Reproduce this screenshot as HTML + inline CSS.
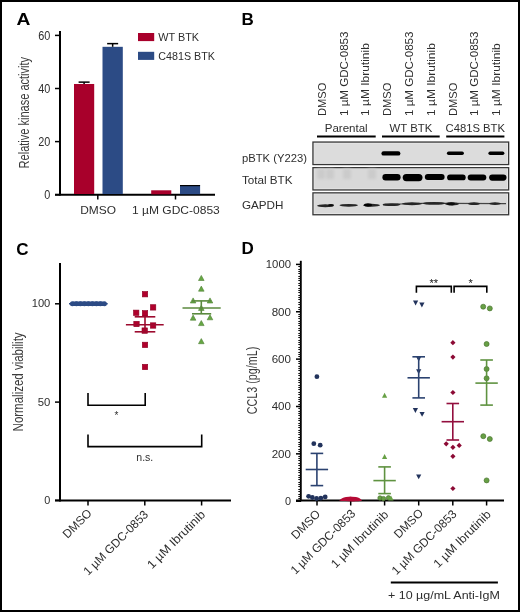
<!DOCTYPE html>
<html><head><meta charset="utf-8"><style>
html,body{margin:0;padding:0;background:#fff;}
body{width:520px;height:612px;overflow:hidden;}
svg{display:block;will-change:transform;}
text{font-family:"Liberation Sans",sans-serif;}
</style></head><body>
<svg width="520" height="612" viewBox="0 0 520 612">
<rect x="0" y="0" width="520" height="612" fill="#fff"/>
<text x="16.6" y="25" font-size="17.2" text-anchor="start" fill="#000" textLength="13.9" lengthAdjust="spacingAndGlyphs" font-weight="bold">A</text>
<line x1="60" y1="31" x2="60" y2="195.5" stroke="#000" stroke-width="2"/>
<line x1="55" y1="194.7" x2="215" y2="194.7" stroke="#000" stroke-width="2"/>
<line x1="55" y1="194.7" x2="60" y2="194.7" stroke="#000" stroke-width="1.5"/>
<text x="50.3" y="199.0" font-size="12" text-anchor="end" fill="#2e2e2e" textLength="6.05" lengthAdjust="spacingAndGlyphs">0</text>
<line x1="55" y1="141.6" x2="60" y2="141.6" stroke="#000" stroke-width="1.5"/>
<text x="50.3" y="145.9" font-size="12" text-anchor="end" fill="#2e2e2e" textLength="12.1" lengthAdjust="spacingAndGlyphs">20</text>
<line x1="55" y1="88.5" x2="60" y2="88.5" stroke="#000" stroke-width="1.5"/>
<text x="50.3" y="92.8" font-size="12" text-anchor="end" fill="#2e2e2e" textLength="12.1" lengthAdjust="spacingAndGlyphs">40</text>
<line x1="55" y1="35.400000000000006" x2="60" y2="35.400000000000006" stroke="#000" stroke-width="1.5"/>
<text x="50.3" y="39.7" font-size="12" text-anchor="end" fill="#2e2e2e" textLength="12.1" lengthAdjust="spacingAndGlyphs">60</text>
<line x1="97.8" y1="195" x2="97.8" y2="199.5" stroke="#000" stroke-width="1.5"/>
<line x1="175.5" y1="195" x2="175.5" y2="199.5" stroke="#000" stroke-width="1.5"/>
<rect x="74" y="83.98649999999999" width="20.200000000000003" height="110.01350000000001" fill="#a8002b"/>
<line x1="84.1" y1="82.12799999999999" x2="84.1" y2="83.98649999999999" stroke="#000" stroke-width="1.5"/>
<line x1="78.6" y1="82.12799999999999" x2="89.6" y2="82.12799999999999" stroke="#000" stroke-width="1.5"/>
<rect x="102.5" y="46.81649999999999" width="20.299999999999997" height="147.1835" fill="#2c4b85"/>
<line x1="112.65" y1="43.630499999999984" x2="112.65" y2="46.81649999999999" stroke="#000" stroke-width="1.5"/>
<line x1="107.15" y1="43.630499999999984" x2="118.15" y2="43.630499999999984" stroke="#000" stroke-width="1.5"/>
<rect x="151.2" y="190.3" width="20.1" height="4" fill="#a8002b"/>
<rect x="180" y="185.7" width="20.1" height="8.5" fill="#2c4b85"/>
<line x1="180" y1="185.6" x2="200.1" y2="185.6" stroke="#000" stroke-width="1.2"/>
<rect x="138" y="33" width="16.2" height="8.1" fill="#a8002b"/>
<rect x="138" y="51.8" width="16.2" height="8.1" fill="#2c4b85"/>
<text x="158.3" y="40.8" font-size="10.8" text-anchor="start" fill="#2e2e2e" textLength="40.8" lengthAdjust="spacingAndGlyphs">WT BTK</text>
<text x="158.3" y="59.5" font-size="10.8" text-anchor="start" fill="#2e2e2e" textLength="56.6" lengthAdjust="spacingAndGlyphs">C481S BTK</text>
<text x="80.2" y="214" font-size="11.5" text-anchor="start" fill="#2e2e2e" textLength="35.8" lengthAdjust="spacingAndGlyphs">DMSO</text>
<text x="132" y="214" font-size="11.5" text-anchor="start" fill="#2e2e2e" textLength="87.8" lengthAdjust="spacingAndGlyphs">1 µM GDC-0853</text>
<text x="29.2" y="168.4" font-size="14.2" text-anchor="start" fill="#3c3c3c" textLength="111.5" lengthAdjust="spacingAndGlyphs" transform="rotate(-90 29.2 168.4)">Relative kinase activity</text>
<text x="241.5" y="24.6" font-size="17" text-anchor="start" fill="#000" font-weight="bold">B</text>
<text x="325.8" y="116" font-size="11.3" text-anchor="start" fill="#2e2e2e" textLength="33.3" lengthAdjust="spacingAndGlyphs" transform="rotate(-90 325.8 116)">DMSO</text>
<text x="347.6" y="116" font-size="11.3" text-anchor="start" fill="#2e2e2e" textLength="84.5" lengthAdjust="spacingAndGlyphs" transform="rotate(-90 347.6 116)">1 µM GDC-0853</text>
<text x="369.4" y="116" font-size="11.3" text-anchor="start" fill="#2e2e2e" textLength="72.8" lengthAdjust="spacingAndGlyphs" transform="rotate(-90 369.4 116)">1 µM Ibrutinib</text>
<text x="391.2" y="116" font-size="11.3" text-anchor="start" fill="#2e2e2e" textLength="33.3" lengthAdjust="spacingAndGlyphs" transform="rotate(-90 391.2 116)">DMSO</text>
<text x="413.0" y="116" font-size="11.3" text-anchor="start" fill="#2e2e2e" textLength="84.5" lengthAdjust="spacingAndGlyphs" transform="rotate(-90 413.0 116)">1 µM GDC-0853</text>
<text x="434.8" y="116" font-size="11.3" text-anchor="start" fill="#2e2e2e" textLength="72.8" lengthAdjust="spacingAndGlyphs" transform="rotate(-90 434.8 116)">1 µM Ibrutinib</text>
<text x="456.6" y="116" font-size="11.3" text-anchor="start" fill="#2e2e2e" textLength="33.3" lengthAdjust="spacingAndGlyphs" transform="rotate(-90 456.6 116)">DMSO</text>
<text x="478.4" y="116" font-size="11.3" text-anchor="start" fill="#2e2e2e" textLength="84.5" lengthAdjust="spacingAndGlyphs" transform="rotate(-90 478.4 116)">1 µM GDC-0853</text>
<text x="500.2" y="116" font-size="11.3" text-anchor="start" fill="#2e2e2e" textLength="72.8" lengthAdjust="spacingAndGlyphs" transform="rotate(-90 500.2 116)">1 µM Ibrutinib</text>
<text x="324.7" y="132.3" font-size="11.5" text-anchor="start" fill="#2e2e2e" textLength="43" lengthAdjust="spacingAndGlyphs">Parental</text>
<text x="389.6" y="132.3" font-size="11.5" text-anchor="start" fill="#2e2e2e" textLength="42.7" lengthAdjust="spacingAndGlyphs">WT BTK</text>
<text x="445.5" y="132.3" font-size="11.5" text-anchor="start" fill="#2e2e2e" textLength="59.5" lengthAdjust="spacingAndGlyphs">C481S BTK</text>
<line x1="317" y1="136.6" x2="375.7" y2="136.6" stroke="#000" stroke-width="2"/>
<line x1="382" y1="136.6" x2="439.7" y2="136.6" stroke="#000" stroke-width="2"/>
<line x1="446.2" y1="136.6" x2="504.4" y2="136.6" stroke="#000" stroke-width="2"/>
<text x="241.9" y="161.5" font-size="11.3" text-anchor="start" fill="#2e2e2e" textLength="65" lengthAdjust="spacingAndGlyphs">pBTK (Y223)</text>
<text x="241.9" y="184" font-size="11.3" text-anchor="start" fill="#2e2e2e" textLength="50.6" lengthAdjust="spacingAndGlyphs">Total BTK</text>
<text x="241.9" y="208.5" font-size="11.3" text-anchor="start" fill="#2e2e2e" textLength="41.5" lengthAdjust="spacingAndGlyphs">GAPDH</text>
<defs><filter id="bl" x="-20%" y="-80%" width="140%" height="260%"><feGaussianBlur stdDeviation="0.55"/></filter><filter id="bl1" x="-20%" y="-80%" width="140%" height="260%"><feGaussianBlur stdDeviation="0.75"/></filter><filter id="bl2" x="-30%" y="-50%" width="160%" height="200%"><feGaussianBlur stdDeviation="1.8"/></filter></defs>
<rect x="312.3" y="141.4" width="197" height="23.799999999999983" fill="#363636"/>
<rect x="313.6" y="142.70000000000002" width="194.4" height="21.19999999999998" fill="#ececec"/>
<rect x="314.3" y="143.4" width="193" height="19.799999999999983" fill="#dcdcdc"/>
<rect x="312.3" y="167.0" width="197" height="23.599999999999994" fill="#363636"/>
<rect x="313.6" y="168.3" width="194.4" height="20.999999999999993" fill="#ececec"/>
<rect x="314.3" y="169.0" width="193" height="19.599999999999994" fill="#d8d8d8"/>
<rect x="312.3" y="192.2" width="197" height="23.200000000000017" fill="#363636"/>
<rect x="313.6" y="193.5" width="194.4" height="20.600000000000016" fill="#ececec"/>
<rect x="314.3" y="194.2" width="193" height="19.200000000000017" fill="#d9d9d9"/>
<rect x="381.40" y="151.20" width="19" height="4.4" rx="2.2" fill="#050505" filter="url(#bl)"/>
<rect x="446.90" y="151.50" width="17" height="3.4" rx="1.7" fill="#050505" filter="url(#bl)"/>
<rect x="488.40" y="151.50" width="16" height="3.4" rx="1.7" fill="#050505" filter="url(#bl)"/>
<rect x="317" y="169" width="8" height="10" fill="#cbcbcb" filter="url(#bl2)"/>
<rect x="326" y="169" width="8" height="10" fill="#cbcbcb" filter="url(#bl2)"/>
<rect x="343" y="169" width="8" height="10" fill="#cbcbcb" filter="url(#bl2)"/>
<rect x="368" y="169" width="8" height="10" fill="#cbcbcb" filter="url(#bl2)"/>
<rect x="382.40" y="174.10" width="18.2" height="6.4" rx="3.20" fill="#030303" filter="url(#bl1)"/>
<rect x="402.70" y="173.90" width="19.8" height="7.4" rx="3.70" fill="#030303" filter="url(#bl1)"/>
<rect x="424.80" y="174.10" width="19.8" height="6.0" rx="3.00" fill="#030303" filter="url(#bl1)"/>
<rect x="447.10" y="174.50" width="18.6" height="5.8" rx="2.90" fill="#030303" filter="url(#bl1)"/>
<rect x="467.70" y="174.50" width="18.6" height="6.0" rx="3.00" fill="#030303" filter="url(#bl1)"/>
<rect x="489.10" y="174.50" width="17.4" height="6.2" rx="3.10" fill="#030303" filter="url(#bl1)"/>
<path d="M383 204.8 L400 204 L430 203.2 L448 203.3 L506 203.6" fill="none" stroke="#444" stroke-width="1.2" filter="url(#bl)"/>
<ellipse cx="325.3" cy="205.8" rx="8.25" ry="1.45" fill="#262626" filter="url(#bl1)"/>
<ellipse cx="348.7" cy="205.3" rx="9.25" ry="1.35" fill="#262626" filter="url(#bl1)"/>
<ellipse cx="371.5" cy="205.2" rx="8.5" ry="1.45" fill="#262626" filter="url(#bl1)"/>
<ellipse cx="391.5" cy="204.6" rx="9.0" ry="1.45" fill="#262626" filter="url(#bl1)"/>
<ellipse cx="412" cy="203.8" rx="10.0" ry="1.45" fill="#262626" filter="url(#bl1)"/>
<ellipse cx="434" cy="203.4" rx="11.0" ry="1.45" fill="#262626" filter="url(#bl1)"/>
<ellipse cx="452" cy="203.8" rx="7.0" ry="1.65" fill="#262626" filter="url(#bl1)"/>
<ellipse cx="474" cy="203.7" rx="6.0" ry="1.35" fill="#262626" filter="url(#bl1)"/>
<ellipse cx="495" cy="203.6" rx="6.0" ry="1.35" fill="#262626" filter="url(#bl1)"/>
<ellipse cx="368" cy="205" rx="4" ry="1.7" fill="#050505" filter="url(#bl1)"/>
<ellipse cx="331" cy="205.3" rx="3" ry="1.3" fill="#111" filter="url(#bl1)"/>
<ellipse cx="451" cy="203.7" rx="4" ry="1.5" fill="#111" filter="url(#bl1)"/>
<text x="16.3" y="254.6" font-size="17" text-anchor="start" fill="#000" font-weight="bold">C</text>
<line x1="60" y1="263" x2="60" y2="501.4" stroke="#000" stroke-width="2"/>
<line x1="55" y1="500.4" x2="231" y2="500.4" stroke="#000" stroke-width="2"/>
<line x1="55" y1="500.4" x2="60" y2="500.4" stroke="#000" stroke-width="1.5"/>
<text x="50.3" y="504.0" font-size="11.5" text-anchor="end" fill="#2e2e2e" textLength="6.05" lengthAdjust="spacingAndGlyphs">0</text>
<line x1="55" y1="402.09999999999997" x2="60" y2="402.09999999999997" stroke="#000" stroke-width="1.5"/>
<text x="50.3" y="405.7" font-size="11.5" text-anchor="end" fill="#2e2e2e" textLength="12.6" lengthAdjust="spacingAndGlyphs">50</text>
<line x1="55" y1="303.79999999999995" x2="60" y2="303.79999999999995" stroke="#000" stroke-width="1.5"/>
<text x="50.3" y="307.4" font-size="11.5" text-anchor="end" fill="#2e2e2e" textLength="18.6" lengthAdjust="spacingAndGlyphs">100</text>
<line x1="88" y1="500.4" x2="88" y2="505.5" stroke="#000" stroke-width="1.5"/>
<line x1="144.8" y1="500.4" x2="144.8" y2="505.5" stroke="#000" stroke-width="1.5"/>
<line x1="201.6" y1="500.4" x2="201.6" y2="505.5" stroke="#000" stroke-width="1.5"/>
<line x1="69" y1="303.8" x2="107.7" y2="303.8" stroke="#2c4b85" stroke-width="1.5"/>
<rect x="71.5" y="301.6" width="33.3" height="4.4" rx="2.2" fill="#2c4b85"/>
<circle cx="72.40" cy="303.8" r="2.5" fill="#2c4b85"/>
<circle cx="76.40" cy="303.8" r="2.5" fill="#2c4b85"/>
<circle cx="80.40" cy="303.8" r="2.5" fill="#2c4b85"/>
<circle cx="84.40" cy="303.8" r="2.5" fill="#2c4b85"/>
<circle cx="88.40" cy="303.8" r="2.5" fill="#2c4b85"/>
<circle cx="92.40" cy="303.8" r="2.5" fill="#2c4b85"/>
<circle cx="96.40" cy="303.8" r="2.5" fill="#2c4b85"/>
<circle cx="100.40" cy="303.8" r="2.5" fill="#2c4b85"/>
<circle cx="104.40" cy="303.8" r="2.5" fill="#2c4b85"/>
<rect x="142.3" y="291.5" width="5.4" height="5.4" fill="#b0002c" stroke="#8a0022" stroke-width="0.6"/>
<rect x="150.4" y="304.7" width="5.4" height="5.4" fill="#b0002c" stroke="#8a0022" stroke-width="0.6"/>
<rect x="133.5" y="310.1" width="5.4" height="5.4" fill="#b0002c" stroke="#8a0022" stroke-width="0.6"/>
<rect x="142.3" y="310.6" width="5.4" height="5.4" fill="#b0002c" stroke="#8a0022" stroke-width="0.6"/>
<rect x="133.8" y="321.3" width="5.4" height="5.4" fill="#b0002c" stroke="#8a0022" stroke-width="0.6"/>
<rect x="150.4" y="322.8" width="5.4" height="5.4" fill="#b0002c" stroke="#8a0022" stroke-width="0.6"/>
<rect x="142.0" y="327.9" width="5.4" height="5.4" fill="#b0002c" stroke="#8a0022" stroke-width="0.6"/>
<rect x="142.3" y="342.2" width="5.4" height="5.4" fill="#b0002c" stroke="#8a0022" stroke-width="0.6"/>
<rect x="142.3" y="364.3" width="5.4" height="5.4" fill="#b0002c" stroke="#8a0022" stroke-width="0.6"/>
<line x1="125.9" y1="324.7" x2="163.7" y2="324.7" stroke="#9c0a2e" stroke-width="1.6"/>
<line x1="134.7" y1="316.8" x2="155.3" y2="316.8" stroke="#9c0a2e" stroke-width="1.6"/>
<line x1="134.7" y1="331.8" x2="155.3" y2="331.8" stroke="#9c0a2e" stroke-width="1.6"/>
<line x1="145" y1="316.8" x2="145" y2="331.8" stroke="#9c0a2e" stroke-width="1.6"/>
<path d="M201.30 275.40 L204.10 280.50 L198.50 280.50Z" fill="#66a743" stroke="#4f7f35" stroke-width="0.6"/>
<path d="M201.30 286.10 L204.10 291.20 L198.50 291.20Z" fill="#66a743" stroke="#4f7f35" stroke-width="0.6"/>
<path d="M193.10 297.90 L195.90 303.00 L190.30 303.00Z" fill="#66a743" stroke="#4f7f35" stroke-width="0.6"/>
<path d="M210.00 297.90 L212.80 303.00 L207.20 303.00Z" fill="#66a743" stroke="#4f7f35" stroke-width="0.6"/>
<path d="M201.30 305.30 L204.10 310.40 L198.50 310.40Z" fill="#66a743" stroke="#4f7f35" stroke-width="0.6"/>
<path d="M193.10 315.10 L195.90 320.20 L190.30 320.20Z" fill="#66a743" stroke="#4f7f35" stroke-width="0.6"/>
<path d="M210.00 314.70 L212.80 319.80 L207.20 319.80Z" fill="#66a743" stroke="#4f7f35" stroke-width="0.6"/>
<path d="M201.30 320.50 L204.10 325.60 L198.50 325.60Z" fill="#66a743" stroke="#4f7f35" stroke-width="0.6"/>
<path d="M201.30 338.60 L204.10 343.70 L198.50 343.70Z" fill="#66a743" stroke="#4f7f35" stroke-width="0.6"/>
<line x1="182.5" y1="308" x2="220.7" y2="308" stroke="#5b8a3e" stroke-width="1.6"/>
<line x1="192" y1="300.9" x2="211.2" y2="300.9" stroke="#5b8a3e" stroke-width="1.6"/>
<line x1="192" y1="313.8" x2="211.2" y2="313.8" stroke="#5b8a3e" stroke-width="1.6"/>
<line x1="201.3" y1="300.9" x2="201.3" y2="313.8" stroke="#5b8a3e" stroke-width="1.6"/>
<path d="M88 392.9 V405.3 H145.2 V392.9" fill="none" stroke="#000" stroke-width="1.6"/>
<path d="M88 434.4 V446.6 H201.7 V434.4" fill="none" stroke="#000" stroke-width="1.6"/>
<text x="116.4" y="419" font-size="10" text-anchor="middle" fill="#2e2e2e">*</text>
<text x="144.8" y="460.6" font-size="10.5" text-anchor="middle" fill="#2e2e2e" textLength="17" lengthAdjust="spacingAndGlyphs">n.s.</text>
<text x="22.9" y="431.4" font-size="14.5" text-anchor="start" fill="#3c3c3c" textLength="99" lengthAdjust="spacingAndGlyphs" transform="rotate(-90 22.9 431.4)">Normalized viability</text>
<text x="241.5" y="254.2" font-size="17" text-anchor="start" fill="#000" font-weight="bold">D</text>
<line x1="300.8" y1="260.8" x2="300.8" y2="501.2" stroke="#000" stroke-width="1.9"/>
<line x1="296" y1="500.5" x2="504" y2="500.5" stroke="#000" stroke-width="2"/>
<line x1="296" y1="501.2" x2="301" y2="501.2" stroke="#000" stroke-width="1.5"/>
<text x="291" y="505.2" font-size="11.5" text-anchor="end" fill="#2e2e2e" textLength="6.05" lengthAdjust="spacingAndGlyphs">0</text>
<line x1="298.3" y1="498.5" x2="300.5" y2="498.5" stroke="#111" stroke-width="1"/>
<line x1="298.3" y1="496.5" x2="300.5" y2="496.5" stroke="#111" stroke-width="1"/>
<line x1="298.3" y1="494.5" x2="300.5" y2="494.5" stroke="#111" stroke-width="1"/>
<line x1="298.3" y1="491.5" x2="300.5" y2="491.5" stroke="#111" stroke-width="1"/>
<line x1="298.3" y1="489.5" x2="300.5" y2="489.5" stroke="#111" stroke-width="1"/>
<line x1="298.3" y1="486.5" x2="300.5" y2="486.5" stroke="#111" stroke-width="1"/>
<line x1="298.3" y1="484.5" x2="300.5" y2="484.5" stroke="#111" stroke-width="1"/>
<line x1="298.3" y1="482.5" x2="300.5" y2="482.5" stroke="#111" stroke-width="1"/>
<line x1="298.3" y1="479.5" x2="300.5" y2="479.5" stroke="#111" stroke-width="1"/>
<line x1="298.3" y1="477.5" x2="300.5" y2="477.5" stroke="#111" stroke-width="1"/>
<line x1="298.3" y1="475.5" x2="300.5" y2="475.5" stroke="#111" stroke-width="1"/>
<line x1="298.3" y1="472.5" x2="300.5" y2="472.5" stroke="#111" stroke-width="1"/>
<line x1="298.3" y1="470.5" x2="300.5" y2="470.5" stroke="#111" stroke-width="1"/>
<line x1="298.3" y1="468.5" x2="300.5" y2="468.5" stroke="#111" stroke-width="1"/>
<line x1="298.3" y1="465.5" x2="300.5" y2="465.5" stroke="#111" stroke-width="1"/>
<line x1="298.3" y1="463.5" x2="300.5" y2="463.5" stroke="#111" stroke-width="1"/>
<line x1="298.3" y1="460.5" x2="300.5" y2="460.5" stroke="#111" stroke-width="1"/>
<line x1="298.3" y1="458.5" x2="300.5" y2="458.5" stroke="#111" stroke-width="1"/>
<line x1="298.3" y1="456.5" x2="300.5" y2="456.5" stroke="#111" stroke-width="1"/>
<line x1="296" y1="453.84" x2="301" y2="453.84" stroke="#000" stroke-width="1.5"/>
<text x="291" y="457.84" font-size="11.5" text-anchor="end" fill="#2e2e2e" textLength="19.3" lengthAdjust="spacingAndGlyphs">200</text>
<line x1="298.3" y1="451.5" x2="300.5" y2="451.5" stroke="#111" stroke-width="1"/>
<line x1="298.3" y1="449.5" x2="300.5" y2="449.5" stroke="#111" stroke-width="1"/>
<line x1="298.3" y1="446.5" x2="300.5" y2="446.5" stroke="#111" stroke-width="1"/>
<line x1="298.3" y1="444.5" x2="300.5" y2="444.5" stroke="#111" stroke-width="1"/>
<line x1="298.3" y1="442.5" x2="300.5" y2="442.5" stroke="#111" stroke-width="1"/>
<line x1="298.3" y1="439.5" x2="300.5" y2="439.5" stroke="#111" stroke-width="1"/>
<line x1="298.3" y1="437.5" x2="300.5" y2="437.5" stroke="#111" stroke-width="1"/>
<line x1="298.3" y1="434.5" x2="300.5" y2="434.5" stroke="#111" stroke-width="1"/>
<line x1="298.3" y1="432.5" x2="300.5" y2="432.5" stroke="#111" stroke-width="1"/>
<line x1="298.3" y1="430.5" x2="300.5" y2="430.5" stroke="#111" stroke-width="1"/>
<line x1="298.3" y1="427.5" x2="300.5" y2="427.5" stroke="#111" stroke-width="1"/>
<line x1="298.3" y1="425.5" x2="300.5" y2="425.5" stroke="#111" stroke-width="1"/>
<line x1="298.3" y1="423.5" x2="300.5" y2="423.5" stroke="#111" stroke-width="1"/>
<line x1="298.3" y1="420.5" x2="300.5" y2="420.5" stroke="#111" stroke-width="1"/>
<line x1="298.3" y1="418.5" x2="300.5" y2="418.5" stroke="#111" stroke-width="1"/>
<line x1="298.3" y1="415.5" x2="300.5" y2="415.5" stroke="#111" stroke-width="1"/>
<line x1="298.3" y1="413.5" x2="300.5" y2="413.5" stroke="#111" stroke-width="1"/>
<line x1="298.3" y1="411.5" x2="300.5" y2="411.5" stroke="#111" stroke-width="1"/>
<line x1="298.3" y1="408.5" x2="300.5" y2="408.5" stroke="#111" stroke-width="1"/>
<line x1="296" y1="406.48" x2="301" y2="406.48" stroke="#000" stroke-width="1.5"/>
<text x="291" y="410.48" font-size="11.5" text-anchor="end" fill="#2e2e2e" textLength="19.3" lengthAdjust="spacingAndGlyphs">400</text>
<line x1="298.3" y1="404.5" x2="300.5" y2="404.5" stroke="#111" stroke-width="1"/>
<line x1="298.3" y1="401.5" x2="300.5" y2="401.5" stroke="#111" stroke-width="1"/>
<line x1="298.3" y1="399.5" x2="300.5" y2="399.5" stroke="#111" stroke-width="1"/>
<line x1="298.3" y1="397.5" x2="300.5" y2="397.5" stroke="#111" stroke-width="1"/>
<line x1="298.3" y1="394.5" x2="300.5" y2="394.5" stroke="#111" stroke-width="1"/>
<line x1="298.3" y1="392.5" x2="300.5" y2="392.5" stroke="#111" stroke-width="1"/>
<line x1="298.3" y1="389.5" x2="300.5" y2="389.5" stroke="#111" stroke-width="1"/>
<line x1="298.3" y1="387.5" x2="300.5" y2="387.5" stroke="#111" stroke-width="1"/>
<line x1="298.3" y1="385.5" x2="300.5" y2="385.5" stroke="#111" stroke-width="1"/>
<line x1="298.3" y1="382.5" x2="300.5" y2="382.5" stroke="#111" stroke-width="1"/>
<line x1="298.3" y1="380.5" x2="300.5" y2="380.5" stroke="#111" stroke-width="1"/>
<line x1="298.3" y1="378.5" x2="300.5" y2="378.5" stroke="#111" stroke-width="1"/>
<line x1="298.3" y1="375.5" x2="300.5" y2="375.5" stroke="#111" stroke-width="1"/>
<line x1="298.3" y1="373.5" x2="300.5" y2="373.5" stroke="#111" stroke-width="1"/>
<line x1="298.3" y1="370.5" x2="300.5" y2="370.5" stroke="#111" stroke-width="1"/>
<line x1="298.3" y1="368.5" x2="300.5" y2="368.5" stroke="#111" stroke-width="1"/>
<line x1="298.3" y1="366.5" x2="300.5" y2="366.5" stroke="#111" stroke-width="1"/>
<line x1="298.3" y1="363.5" x2="300.5" y2="363.5" stroke="#111" stroke-width="1"/>
<line x1="298.3" y1="361.5" x2="300.5" y2="361.5" stroke="#111" stroke-width="1"/>
<line x1="296" y1="359.12" x2="301" y2="359.12" stroke="#000" stroke-width="1.5"/>
<text x="291" y="363.12" font-size="11.5" text-anchor="end" fill="#2e2e2e" textLength="19.3" lengthAdjust="spacingAndGlyphs">600</text>
<line x1="298.3" y1="356.5" x2="300.5" y2="356.5" stroke="#111" stroke-width="1"/>
<line x1="298.3" y1="354.5" x2="300.5" y2="354.5" stroke="#111" stroke-width="1"/>
<line x1="298.3" y1="352.5" x2="300.5" y2="352.5" stroke="#111" stroke-width="1"/>
<line x1="298.3" y1="349.5" x2="300.5" y2="349.5" stroke="#111" stroke-width="1"/>
<line x1="298.3" y1="347.5" x2="300.5" y2="347.5" stroke="#111" stroke-width="1"/>
<line x1="298.3" y1="344.5" x2="300.5" y2="344.5" stroke="#111" stroke-width="1"/>
<line x1="298.3" y1="342.5" x2="300.5" y2="342.5" stroke="#111" stroke-width="1"/>
<line x1="298.3" y1="340.5" x2="300.5" y2="340.5" stroke="#111" stroke-width="1"/>
<line x1="298.3" y1="337.5" x2="300.5" y2="337.5" stroke="#111" stroke-width="1"/>
<line x1="298.3" y1="335.5" x2="300.5" y2="335.5" stroke="#111" stroke-width="1"/>
<line x1="298.3" y1="333.5" x2="300.5" y2="333.5" stroke="#111" stroke-width="1"/>
<line x1="298.3" y1="330.5" x2="300.5" y2="330.5" stroke="#111" stroke-width="1"/>
<line x1="298.3" y1="328.5" x2="300.5" y2="328.5" stroke="#111" stroke-width="1"/>
<line x1="298.3" y1="325.5" x2="300.5" y2="325.5" stroke="#111" stroke-width="1"/>
<line x1="298.3" y1="323.5" x2="300.5" y2="323.5" stroke="#111" stroke-width="1"/>
<line x1="298.3" y1="321.5" x2="300.5" y2="321.5" stroke="#111" stroke-width="1"/>
<line x1="298.3" y1="318.5" x2="300.5" y2="318.5" stroke="#111" stroke-width="1"/>
<line x1="298.3" y1="316.5" x2="300.5" y2="316.5" stroke="#111" stroke-width="1"/>
<line x1="298.3" y1="314.5" x2="300.5" y2="314.5" stroke="#111" stroke-width="1"/>
<line x1="296" y1="311.76" x2="301" y2="311.76" stroke="#000" stroke-width="1.5"/>
<text x="291" y="315.76" font-size="11.5" text-anchor="end" fill="#2e2e2e" textLength="19.3" lengthAdjust="spacingAndGlyphs">800</text>
<line x1="298.3" y1="309.5" x2="300.5" y2="309.5" stroke="#111" stroke-width="1"/>
<line x1="298.3" y1="307.5" x2="300.5" y2="307.5" stroke="#111" stroke-width="1"/>
<line x1="298.3" y1="304.5" x2="300.5" y2="304.5" stroke="#111" stroke-width="1"/>
<line x1="298.3" y1="302.5" x2="300.5" y2="302.5" stroke="#111" stroke-width="1"/>
<line x1="298.3" y1="299.5" x2="300.5" y2="299.5" stroke="#111" stroke-width="1"/>
<line x1="298.3" y1="297.5" x2="300.5" y2="297.5" stroke="#111" stroke-width="1"/>
<line x1="298.3" y1="295.5" x2="300.5" y2="295.5" stroke="#111" stroke-width="1"/>
<line x1="298.3" y1="292.5" x2="300.5" y2="292.5" stroke="#111" stroke-width="1"/>
<line x1="298.3" y1="290.5" x2="300.5" y2="290.5" stroke="#111" stroke-width="1"/>
<line x1="298.3" y1="288.5" x2="300.5" y2="288.5" stroke="#111" stroke-width="1"/>
<line x1="298.3" y1="285.5" x2="300.5" y2="285.5" stroke="#111" stroke-width="1"/>
<line x1="298.3" y1="283.5" x2="300.5" y2="283.5" stroke="#111" stroke-width="1"/>
<line x1="298.3" y1="280.5" x2="300.5" y2="280.5" stroke="#111" stroke-width="1"/>
<line x1="298.3" y1="278.5" x2="300.5" y2="278.5" stroke="#111" stroke-width="1"/>
<line x1="298.3" y1="276.5" x2="300.5" y2="276.5" stroke="#111" stroke-width="1"/>
<line x1="298.3" y1="273.5" x2="300.5" y2="273.5" stroke="#111" stroke-width="1"/>
<line x1="298.3" y1="271.5" x2="300.5" y2="271.5" stroke="#111" stroke-width="1"/>
<line x1="298.3" y1="269.5" x2="300.5" y2="269.5" stroke="#111" stroke-width="1"/>
<line x1="298.3" y1="266.5" x2="300.5" y2="266.5" stroke="#111" stroke-width="1"/>
<line x1="296" y1="264.4" x2="301" y2="264.4" stroke="#000" stroke-width="1.5"/>
<text x="291" y="268.4" font-size="11.5" text-anchor="end" fill="#2e2e2e" textLength="25.2" lengthAdjust="spacingAndGlyphs">1000</text>
<line x1="317" y1="500.5" x2="317" y2="505.5" stroke="#000" stroke-width="1.5"/>
<line x1="350.7" y1="500.5" x2="350.7" y2="505.5" stroke="#000" stroke-width="1.5"/>
<line x1="384.6" y1="500.5" x2="384.6" y2="505.5" stroke="#000" stroke-width="1.5"/>
<line x1="418.7" y1="500.5" x2="418.7" y2="505.5" stroke="#000" stroke-width="1.5"/>
<line x1="452.8" y1="500.5" x2="452.8" y2="505.5" stroke="#000" stroke-width="1.5"/>
<line x1="486.6" y1="500.5" x2="486.6" y2="505.5" stroke="#000" stroke-width="1.5"/>
<text x="257" y="414.2" font-size="14.6" text-anchor="start" fill="#3c3c3c" textLength="67.5" lengthAdjust="spacingAndGlyphs" transform="rotate(-90 257 414.2)">CCL3 (pg/mL)</text>
<path d="M416.4 292.8 V286.4 H451.3 V292.8" fill="none" stroke="#000" stroke-width="1.6"/>
<path d="M454.1 292.8 V286.4 H486.8 V292.8" fill="none" stroke="#000" stroke-width="1.6"/>
<text x="433.8" y="287.2" font-size="11" text-anchor="middle" fill="#111">**</text>
<text x="470.6" y="287.2" font-size="11" text-anchor="middle" fill="#111">*</text>
<circle cx="316.9" cy="376.7" r="2.4" fill="#22335c"/>
<circle cx="313.8" cy="443.7" r="2.4" fill="#22335c"/>
<circle cx="320.2" cy="445.2" r="2.4" fill="#22335c"/>
<circle cx="308.6" cy="496.3" r="2.4" fill="#22335c"/>
<circle cx="312.3" cy="497.5" r="2.4" fill="#22335c"/>
<circle cx="316.6" cy="498.5" r="2.4" fill="#22335c"/>
<circle cx="320.9" cy="498.1" r="2.4" fill="#22335c"/>
<circle cx="325.2" cy="496.9" r="2.4" fill="#22335c"/>
<line x1="305.7" y1="469.5" x2="328.09999999999997" y2="469.5" stroke="#2b4270" stroke-width="1.6"/>
<line x1="310.59999999999997" y1="453.4" x2="323.2" y2="453.4" stroke="#2b4270" stroke-width="1.6"/>
<line x1="310.59999999999997" y1="485.6" x2="323.2" y2="485.6" stroke="#2b4270" stroke-width="1.6"/>
<line x1="316.9" y1="453.4" x2="316.9" y2="485.6" stroke="#2b4270" stroke-width="1.6"/>
<path d="M339.2 500.6 C341 498.5 343 497.2 346 496.9 L349 496.8 L350.5 496.4 L352 496.8 L356 496.9 C359 497.2 360.5 498.5 362 500.6 C360 501.8 345 501.8 339.2 500.6Z" fill="#b50a35"/>
<path d="M384.60 392.74 L387.20 397.68 L382.00 397.68Z" fill="#67a045"/>
<path d="M384.60 453.94 L387.20 458.88 L382.00 458.88Z" fill="#67a045"/>
<circle cx="380" cy="498" r="2.2" fill="#67a045" stroke="#4a7430" stroke-width="0.7"/>
<circle cx="383.5" cy="498.6" r="2.2" fill="#67a045" stroke="#4a7430" stroke-width="0.7"/>
<circle cx="388.5" cy="497.8" r="2.2" fill="#67a045" stroke="#4a7430" stroke-width="0.7"/>
<path d="M391.00 495.54 L393.60 500.48 L388.40 500.48Z" fill="#67a045"/>
<line x1="373.40000000000003" y1="480.6" x2="395.8" y2="480.6" stroke="#5f9240" stroke-width="1.6"/>
<line x1="378.3" y1="466.9" x2="390.90000000000003" y2="466.9" stroke="#5f9240" stroke-width="1.6"/>
<line x1="378.3" y1="493.6" x2="390.90000000000003" y2="493.6" stroke="#5f9240" stroke-width="1.6"/>
<line x1="384.6" y1="466.9" x2="384.6" y2="493.6" stroke="#5f9240" stroke-width="1.6"/>
<path d="M413.00 300.52 L418.20 300.52 L415.60 305.46Z" fill="#22335c"/>
<path d="M419.30 302.52 L424.50 302.52 L421.90 307.46Z" fill="#22335c"/>
<path d="M416.10 356.52 L421.30 356.52 L418.70 361.46Z" fill="#22335c"/>
<path d="M416.10 369.22 L421.30 369.22 L418.70 374.16Z" fill="#22335c"/>
<path d="M412.80 408.12 L418.00 408.12 L415.40 413.06Z" fill="#22335c"/>
<path d="M419.50 411.92 L424.70 411.92 L422.10 416.86Z" fill="#22335c"/>
<path d="M416.10 474.42 L421.30 474.42 L418.70 479.36Z" fill="#22335c"/>
<line x1="407.5" y1="377.8" x2="429.9" y2="377.8" stroke="#2b4270" stroke-width="1.6"/>
<line x1="412.4" y1="356.8" x2="425.0" y2="356.8" stroke="#2b4270" stroke-width="1.6"/>
<line x1="412.4" y1="397.9" x2="425.0" y2="397.9" stroke="#2b4270" stroke-width="1.6"/>
<line x1="418.7" y1="356.8" x2="418.7" y2="397.9" stroke="#2b4270" stroke-width="1.6"/>
<path d="M452.90 340.10 L455.50 342.70 L452.90 345.30 L450.30 342.70Z" fill="#8c0a35"/>
<path d="M452.90 354.50 L455.50 357.10 L452.90 359.70 L450.30 357.10Z" fill="#8c0a35"/>
<path d="M452.90 389.90 L455.50 392.50 L452.90 395.10 L450.30 392.50Z" fill="#8c0a35"/>
<path d="M446.20 441.20 L448.80 443.80 L446.20 446.40 L443.60 443.80Z" fill="#8c0a35"/>
<path d="M459.20 442.80 L461.80 445.40 L459.20 448.00 L456.60 445.40Z" fill="#8c0a35"/>
<path d="M452.90 444.70 L455.50 447.30 L452.90 449.90 L450.30 447.30Z" fill="#8c0a35"/>
<path d="M452.90 453.70 L455.50 456.30 L452.90 458.90 L450.30 456.30Z" fill="#8c0a35"/>
<path d="M452.90 485.90 L455.50 488.50 L452.90 491.10 L450.30 488.50Z" fill="#8c0a35"/>
<line x1="441.6" y1="421.7" x2="464.0" y2="421.7" stroke="#930f3e" stroke-width="1.6"/>
<line x1="446.5" y1="403.5" x2="459.1" y2="403.5" stroke="#930f3e" stroke-width="1.6"/>
<line x1="446.5" y1="440" x2="459.1" y2="440" stroke="#930f3e" stroke-width="1.6"/>
<line x1="452.8" y1="403.5" x2="452.8" y2="440" stroke="#930f3e" stroke-width="1.6"/>
<circle cx="483.2" cy="306.7" r="2.5" fill="#67a045" stroke="#4a7430" stroke-width="0.7"/>
<circle cx="489.8" cy="308.4" r="2.5" fill="#67a045" stroke="#4a7430" stroke-width="0.7"/>
<circle cx="486.6" cy="344" r="2.5" fill="#67a045" stroke="#4a7430" stroke-width="0.7"/>
<circle cx="486.6" cy="369" r="2.5" fill="#67a045" stroke="#4a7430" stroke-width="0.7"/>
<circle cx="486.6" cy="378.3" r="2.5" fill="#67a045" stroke="#4a7430" stroke-width="0.7"/>
<circle cx="483.3" cy="436.2" r="2.5" fill="#67a045" stroke="#4a7430" stroke-width="0.7"/>
<circle cx="489.8" cy="439" r="2.5" fill="#67a045" stroke="#4a7430" stroke-width="0.7"/>
<circle cx="486.6" cy="480.4" r="2.5" fill="#67a045" stroke="#4a7430" stroke-width="0.7"/>
<line x1="475.40000000000003" y1="383.1" x2="497.8" y2="383.1" stroke="#5f9240" stroke-width="1.6"/>
<line x1="480.3" y1="360" x2="492.90000000000003" y2="360" stroke="#5f9240" stroke-width="1.6"/>
<line x1="480.3" y1="405.1" x2="492.90000000000003" y2="405.1" stroke="#5f9240" stroke-width="1.6"/>
<line x1="486.6" y1="360" x2="486.6" y2="405.1" stroke="#5f9240" stroke-width="1.6"/>
<line x1="390.8" y1="582.5" x2="497.9" y2="582.5" stroke="#000" stroke-width="1.8"/>
<text x="388" y="598.7" font-size="11.5" text-anchor="start" fill="#2e2e2e" textLength="111.8" lengthAdjust="spacingAndGlyphs">+ 10 µg/mL Anti-IgM</text>
<text x="92.5" y="514" font-size="12" text-anchor="end" fill="#2e2e2e" textLength="35.5" lengthAdjust="spacingAndGlyphs" transform="rotate(-45 92.5 514)">DMSO</text>
<text x="149" y="515.3" font-size="12" text-anchor="end" fill="#2e2e2e" textLength="86" lengthAdjust="spacingAndGlyphs" transform="rotate(-45 149 515.3)">1 µM GDC-0853</text>
<text x="206" y="515.3" font-size="12" text-anchor="end" fill="#2e2e2e" textLength="76.5" lengthAdjust="spacingAndGlyphs" transform="rotate(-45 206 515.3)">1 µM Ibrutinib</text>
<text x="321" y="514.8" font-size="12" text-anchor="end" fill="#2e2e2e" textLength="35.5" lengthAdjust="spacingAndGlyphs" transform="rotate(-45 321 514.8)">DMSO</text>
<text x="356.2" y="514.3" font-size="12" text-anchor="end" fill="#2e2e2e" textLength="86" lengthAdjust="spacingAndGlyphs" transform="rotate(-45 356.2 514.3)">1 µM GDC-0853</text>
<text x="389.1" y="515.3" font-size="12" text-anchor="end" fill="#2e2e2e" textLength="75.5" lengthAdjust="spacingAndGlyphs" transform="rotate(-45 389.1 515.3)">1 µM Ibrutinib</text>
<text x="423.9" y="513.8" font-size="12" text-anchor="end" fill="#2e2e2e" textLength="35.5" lengthAdjust="spacingAndGlyphs" transform="rotate(-45 423.9 513.8)">DMSO</text>
<text x="457.3" y="514.8" font-size="12" text-anchor="end" fill="#2e2e2e" textLength="86" lengthAdjust="spacingAndGlyphs" transform="rotate(-45 457.3 514.8)">1 µM GDC-0853</text>
<text x="491.6" y="515.0999999999999" font-size="12" text-anchor="end" fill="#2e2e2e" textLength="75.5" lengthAdjust="spacingAndGlyphs" transform="rotate(-45 491.6 515.0999999999999)">1 µM Ibrutinib</text>
<rect x="1" y="1" width="518" height="610" fill="none" stroke="#000" stroke-width="2"/>
</svg>
</body></html>
